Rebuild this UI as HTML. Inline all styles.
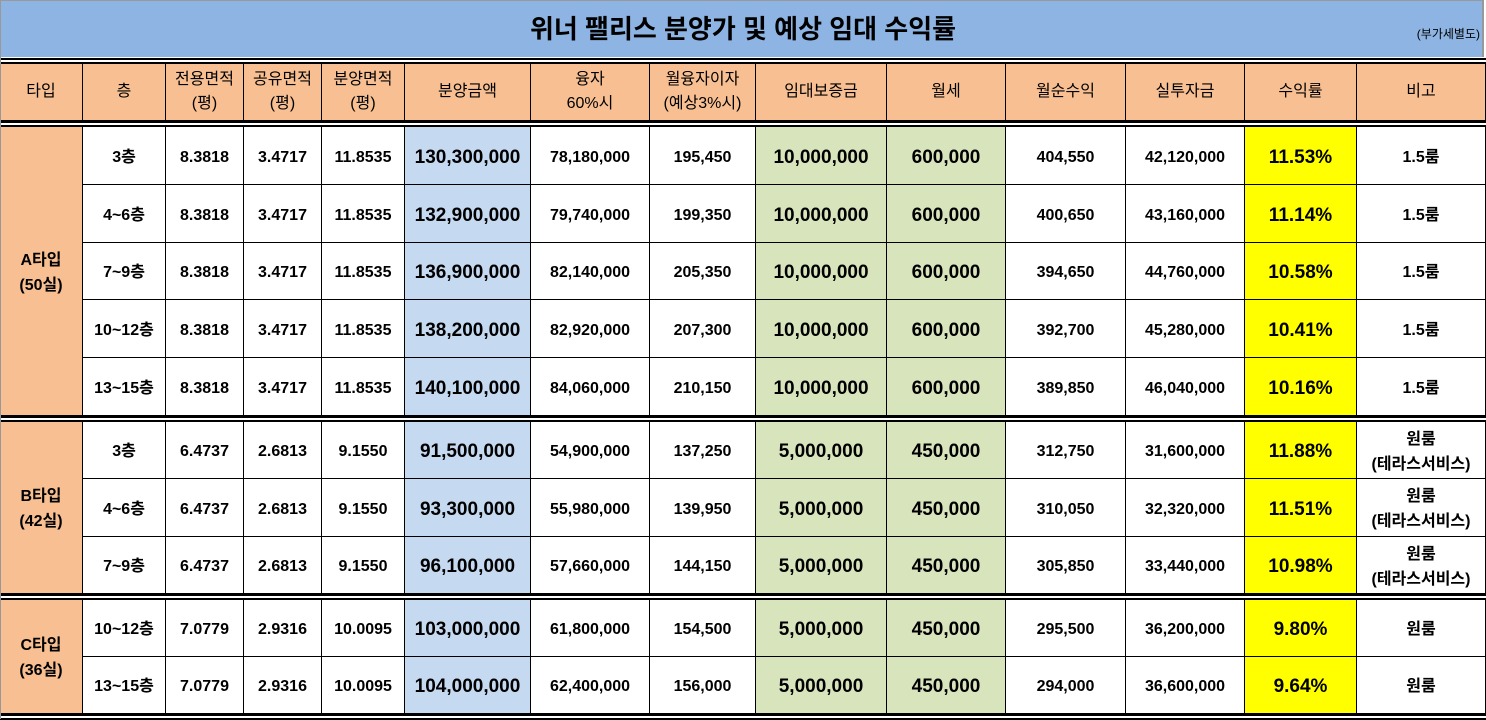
<!DOCTYPE html>
<html><head><meta charset="utf-8"><style>
body{margin:0;width:1486px;height:719px;overflow:hidden;background:#fff;position:relative;font-family:"Liberation Sans","Noto Sans CJK KR","NanumGothic",sans-serif;}
.c{position:absolute;box-sizing:border-box;border-right:1px solid #000;border-bottom:1px solid #000;display:flex;align-items:center;justify-content:center;text-align:center;font-weight:bold;font-size:16px;line-height:25px;color:#000;padding-top:3px;}
.h{background:#F8C092;font-weight:normal;font-size:16px;line-height:24px;padding-top:0;}
.big{font-size:19px;}
.ln{position:absolute;left:0;width:1486px;}
</style></head><body>
<div style="position:absolute;left:0;top:0;width:1484px;height:57px;background:#8DB4E2;border-top:1px solid #999;border-left:1px solid #999;border-right:2px solid #999;box-sizing:border-box;"></div>
<div style="position:absolute;left:0;top:12px;width:1486px;text-align:center;font-size:26px;font-weight:bold;line-height:34px;">위너 팰리스 분양가 및 예상 임대 수익률</div>
<div style="position:absolute;right:6px;top:26px;font-size:12px;line-height:16px;">(부가세별도)</div>
<div id="t"></div>
<script>
var xs=[0,83,166,244,322,405,531,650,756,887,1006,1126,1245,1357,1486];
var out='';
function cell(x0,x1,y0,y1,txt,cls,bg){
 out+='<div class="c '+(cls||'')+'" style="left:'+xs[x0]+'px;width:'+(xs[x1]-xs[x0])+'px;top:'+y0+'px;height:'+(y1-y0)+'px;'+(bg?'background:'+bg+';':'')+'">'+txt+'</div>';
}
var hd=['타입','층','전용면적<br>(평)','공유면적<br>(평)','분양면적<br>(평)','분양금액','융자<br>60%시','월융자이자<br>(예상3%시)','임대보증금','월세','월순수익','실투자금','수익률','비고'];
for(var i=0;i<14;i++)cell(i,i+1,64,121,hd[i],'h');
var A=[['3층','8.3818','3.4717','11.8535','130,300,000','78,180,000','195,450','10,000,000','600,000','404,550','42,120,000','11.53%','1.5룸'],
['4~6층','8.3818','3.4717','11.8535','132,900,000','79,740,000','199,350','10,000,000','600,000','400,650','43,160,000','11.14%','1.5룸'],
['7~9층','8.3818','3.4717','11.8535','136,900,000','82,140,000','205,350','10,000,000','600,000','394,650','44,760,000','10.58%','1.5룸'],
['10~12층','8.3818','3.4717','11.8535','138,200,000','82,920,000','207,300','10,000,000','600,000','392,700','45,280,000','10.41%','1.5룸'],
['13~15층','8.3818','3.4717','11.8535','140,100,000','84,060,000','210,150','10,000,000','600,000','389,850','46,040,000','10.16%','1.5룸']];
var B=[['3층','6.4737','2.6813','9.1550','91,500,000','54,900,000','137,250','5,000,000','450,000','312,750','31,600,000','11.88%','원룸<br>(테라스서비스)'],
['4~6층','6.4737','2.6813','9.1550','93,300,000','55,980,000','139,950','5,000,000','450,000','310,050','32,320,000','11.51%','원룸<br>(테라스서비스)'],
['7~9층','6.4737','2.6813','9.1550','96,100,000','57,660,000','144,150','5,000,000','450,000','305,850','33,440,000','10.98%','원룸<br>(테라스서비스)']];
var C=[['10~12층','7.0779','2.9316','10.0095','103,000,000','61,800,000','154,500','5,000,000','450,000','295,500','36,200,000','9.80%','원룸'],
['13~15층','7.0779','2.9316','10.0095','104,000,000','62,400,000','156,000','5,000,000','450,000','294,000','36,600,000','9.64%','원룸']];
function grp(rows,y0,y1,label){
 cell(0,1,y0,y1,label,'', '#F8C092');
 var h=(y1-y0)/rows.length;
 rows.forEach(function(r,k){
  var a=Math.round(y0+k*h),b=Math.round(y0+(k+1)*h);
  for(var j=0;j<13;j++){
   var bg='',cls='';
   if(j==4){bg='#C5D9F1';cls='big';}
   if(j==7||j==8){bg='#D8E4BC';cls='big';}
   if(j==11){bg='#FFFF00';cls='big';}
   cell(j+1,j+2,a,b,r[j],cls,bg);
  }
 });
}
grp(A,127,416,'A타입<br>(50실)');
grp(B,422,594,'B타입<br>(42실)');
grp(C,600,714,'C타입<br>(36실)');
[58,121,416,594,714].forEach(function(y){
 out+='<div class="ln" style="top:'+y+'px;height:2px;background:#000"></div>';
 out+='<div class="ln" style="top:'+(y+2)+'px;height:2px;background:#fff"></div>';
 out+='<div class="ln" style="top:'+(y+4)+'px;height:2px;background:#000"></div>';
});
out+='<div style="position:absolute;left:0;top:57px;width:1px;height:662px;background:#999"></div>';
document.getElementById('t').innerHTML=out;
</script>
</body></html>
